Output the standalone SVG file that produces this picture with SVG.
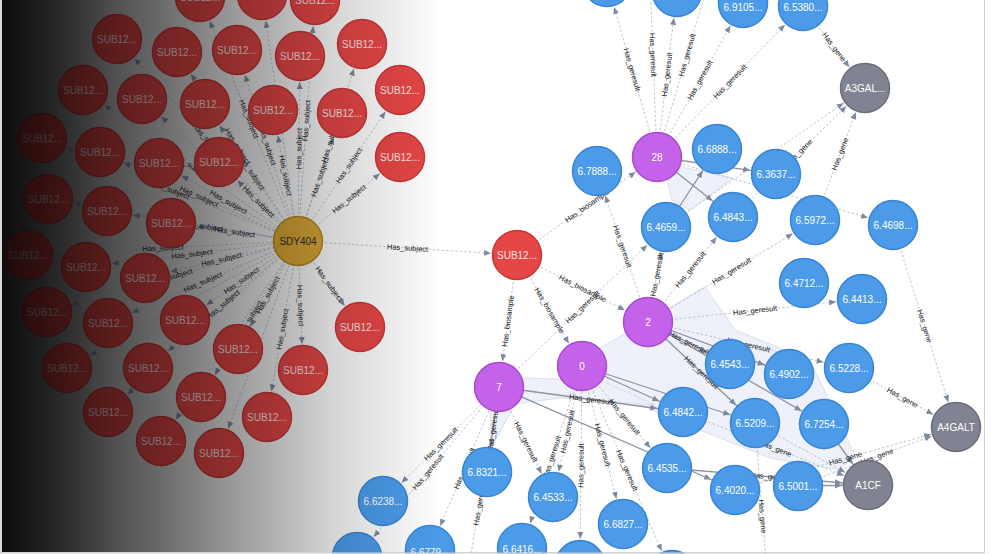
<svg xmlns="http://www.w3.org/2000/svg" xmlns:xlink="http://www.w3.org/1999/xlink" width="991" height="554" viewBox="0 0 991 554">
<style>
text{font-family:"Liberation Sans",Arial,sans-serif}
.node text{font-size:10px;text-anchor:middle}
.node circle{stroke-width:1.5}
.red circle{fill:#e54646;stroke:#c63838}
.red text{fill:#fbe4e4}
.blue circle{fill:#4b9be9;stroke:#3a84d4}
.blue text{fill:#fff}
.pur circle{fill:#c562ea;stroke:#a84ccc}
.pur text{fill:#fff}
.grey circle{fill:#818392;stroke:#6b6d7b}
.grey text{fill:#fff}
.gold circle{fill:#d8a635;stroke:#b4861c}
.gold text{fill:#2a2a2a}
.e{fill:none;stroke:#a9b5ca;stroke-width:0.8;stroke-dasharray:2.5 2}
.h{fill:none;stroke:#8b93a3;stroke-width:1.3}
.el{font-size:7.5px;fill:#1a1a1a;text-anchor:middle}
.hull{fill:#eef1f9;stroke:#c9cfdb;stroke-width:0.6}
</style>
<defs>
<linearGradient id="bgg" gradientUnits="userSpaceOnUse" x1="2" y1="0" x2="442" y2="0">
<stop offset="0" stop-color="#6c6c6c"/>
<stop offset="0.25" stop-color="#c4c4c4"/>
<stop offset="0.5" stop-color="#ececec"/>
<stop offset="0.75" stop-color="#fafafa"/>
<stop offset="1" stop-color="#ffffff"/>
</linearGradient>
<linearGradient id="ov" gradientUnits="userSpaceOnUse" x1="2" y1="0" x2="442" y2="0">
<stop offset="0" stop-color="#000" stop-opacity="0.88"/>
<stop offset="0.25" stop-color="#000" stop-opacity="0.6"/>
<stop offset="0.5" stop-color="#000" stop-opacity="0.38"/>
<stop offset="0.75" stop-color="#000" stop-opacity="0.15"/>
<stop offset="1" stop-color="#000" stop-opacity="0"/>
</linearGradient>
<marker id="ar" viewBox="0 -4 40 8" refX="33" refY="0" markerWidth="40" markerHeight="8" markerUnits="userSpaceOnUse" orient="auto-start-reverse">
<path d="M0,-3 L7,0 L0,3 Z" fill="#7d8aa0"/>
</marker>
</defs>

<g id="background">
<rect x="0" y="0" width="991" height="554" fill="#ffffff"/>
<rect x="0" y="0" width="2" height="554" fill="#d8d8d8"/>
<rect x="2" y="0" width="983" height="552" fill="url(#bgg)"/>
<path d="M984.5,0 V552.5 H2" fill="none" stroke="#d0d0d0" stroke-width="1"/>
</g>

<g id="hulls">
<polygon class="hull" points="663,163 733,178 690,210 672,200"/>
<polygon class="hull" points="600,348 705,287 735,330 810,360 855,455 840,470 770,458 700,430 640,405 610,392"/>
<polygon class="hull" points="522,378 600,380 655,405 560,398 515,404"/>
<polygon class="hull" points="490,410 512,410 492,446"/>
</g>

<g id="connectors">
<path id="s1" class="e" d="M200,-3 L298,241" marker-start="url(#ar)"/>
<path id="s2" class="e" d="M262,-5 L298,241" marker-start="url(#ar)"/>
<path id="s3" class="e" d="M298,241 L315,0" marker-end="url(#ar)"/>
<path id="s4" class="e" d="M117,39 L298,241" marker-start="url(#ar)"/>
<path id="s5" class="e" d="M177,52 L298,241" marker-start="url(#ar)"/>
<path id="s6" class="e" d="M237,50 L298,241" marker-start="url(#ar)"/>
<path id="s7" class="e" d="M298,241 L300,56" marker-end="url(#ar)"/>
<path id="s8" class="e" d="M298,241 L362,44" marker-end="url(#ar)"/>
<path id="s9" class="e" d="M298,241 L400,90" marker-end="url(#ar)"/>
<path id="s10" class="e" d="M298,241 L400,157" marker-end="url(#ar)"/>
<path id="s11" class="e" d="M298,241 L342,113" marker-end="url(#ar)"/>
<path id="s12" class="e" d="M273,110 L298,241" marker-start="url(#ar)"/>
<path id="s13" class="e" d="M205,104 L298,241" marker-start="url(#ar)"/>
<path id="s14" class="e" d="M142,99 L298,241" marker-start="url(#ar)"/>
<path id="s15" class="e" d="M83,90 L298,241" marker-start="url(#ar)"/>
<path id="s16" class="e" d="M42,138 L298,241" marker-start="url(#ar)"/>
<path id="s17" class="e" d="M100,152 L298,241" marker-start="url(#ar)"/>
<path id="s18" class="e" d="M159,163 L298,241" marker-start="url(#ar)"/>
<path id="s19" class="e" d="M219,162 L298,241" marker-start="url(#ar)"/>
<path id="s20" class="e" d="M48,199 L298,241" marker-start="url(#ar)"/>
<path id="s21" class="e" d="M107,211 L298,241" marker-start="url(#ar)"/>
<path id="s22" class="e" d="M171,223 L298,241" marker-start="url(#ar)"/>
<path id="s23" class="e" d="M28,255 L298,241" marker-start="url(#ar)"/>
<path id="s24" class="e" d="M86,267 L298,241" marker-start="url(#ar)"/>
<path id="s25" class="e" d="M145,278 L298,241" marker-start="url(#ar)"/>
<path id="s26" class="e" d="M47,312 L298,241" marker-start="url(#ar)"/>
<path id="s27" class="e" d="M108,323 L298,241" marker-start="url(#ar)"/>
<path id="s28" class="e" d="M185,320 L298,241" marker-start="url(#ar)"/>
<path id="s29" class="e" d="M67,368 L298,241" marker-start="url(#ar)"/>
<path id="s30" class="e" d="M148,368 L298,241" marker-start="url(#ar)"/>
<path id="s31" class="e" d="M238,349 L298,241" marker-start="url(#ar)"/>
<path id="s32" class="e" d="M298,241 L303,370" marker-end="url(#ar)"/>
<path id="s33" class="e" d="M108,412 L298,241" marker-start="url(#ar)"/>
<path id="s34" class="e" d="M201,397 L298,241" marker-start="url(#ar)"/>
<path id="s35" class="e" d="M267,417 L298,241" marker-start="url(#ar)"/>
<path id="s36" class="e" d="M161,441 L298,241" marker-start="url(#ar)"/>
<path id="s37" class="e" d="M219,453 L298,241" marker-start="url(#ar)"/>
<path id="s38" class="e" d="M298,241 L360,327" marker-end="url(#ar)"/>

<path id="r1" class="e" d="M298,241 L517,255" marker-end="url(#ar)"/>
<path id="r2" class="e" d="M517,255 L657,157" marker-end="url(#ar)"/>
<path id="r3" class="e" d="M517,255 L648,322" marker-end="url(#ar)"/>
<path id="r4" class="e" d="M517,255 L582,366" marker-end="url(#ar)"/>
<path id="r5" class="e" d="M499,387 L517,255" marker-start="url(#ar)"/>
<path id="r6" class="e" d="M607,-18 L657,157" marker-start="url(#ar)"/>
<path id="r7" class="e" d="M649,-47 L657,157" marker-start="url(#ar)"/>
<path id="r8" class="e" d="M657,157 L677,-8" marker-end="url(#ar)"/>
<path id="r9" class="e" d="M657,157 L717,-47" marker-end="url(#ar)"/>
<path id="r10" class="e" d="M657,157 L743,3" marker-end="url(#ar)"/>
<path id="r11" class="e" d="M657,157 L803,6" marker-end="url(#ar)"/>
<path id="r12" class="e" d="M657,157 L893,225" marker-end="url(#ar)"/>
<path id="r13" class="h" d="M657,157 L776,174" marker-end="url(#ar)"/>
<path id="r14" class="h" d="M657,157 L733,217" marker-end="url(#ar)"/>
<path id="r15" class="h" d="M666,227 L717,149" marker-end="url(#ar)"/>
<path id="r16" class="e" d="M597,171 L648,322" marker-start="url(#ar)"/>
<path id="r17" class="e" d="M648,322 L666,227" marker-end="url(#ar)"/>
<path id="r18" class="e" d="M648,322 L733,217" marker-end="url(#ar)"/>
<path id="r19" class="e" d="M648,322 L815,220" marker-end="url(#ar)"/>
<path id="r20" class="e" d="M648,322 L862,299" marker-end="url(#ar)"/>
<path id="r21" class="h" d="M648,322 L730,364" marker-end="url(#ar)"/>
<path id="r22" class="h" d="M648,322 L789,374" marker-end="url(#ar)"/>
<path id="r23" class="h" d="M648,322 L755,423" marker-end="url(#ar)"/>
<path id="r24" class="h" d="M648,322 L824,424" marker-end="url(#ar)"/>
<path id="r25" class="e" d="M648,322 L849,368" marker-end="url(#ar)"/>
<path id="r26" class="h" d="M582,366 L683,412" marker-end="url(#ar)"/>
<path id="r27" class="e" d="M582,366 L667,468" marker-end="url(#ar)"/>
<path id="r28" class="e" d="M582,366 L623,524" marker-end="url(#ar)"/>
<path id="r29" class="e" d="M553,497 L582,366" marker-start="url(#ar)"/>
<path id="r30" class="e" d="M522,548 L582,366" marker-start="url(#ar)"/>
<path id="r31" class="e" d="M580,565 L582,366" marker-start="url(#ar)"/>
<path id="r32" class="e" d="M582,366 L672,575" marker-end="url(#ar)"/>
<path id="r33" class="h" d="M582,366 L755,423" marker-end="url(#ar)"/>
<path id="r34" class="e" d="M383,501 L499,387" marker-start="url(#ar)"/>
<path id="r35" class="e" d="M357,557 L499,387" marker-start="url(#ar)"/>
<path id="r36" class="e" d="M430,550 L499,387" marker-start="url(#ar)"/>
<path id="r37" class="h" d="M487,472 L499,387" marker-start="url(#ar)"/>
<path id="r38" class="e" d="M460,620 L499,387" marker-start="url(#ar)"/>
<path id="r39" class="e" d="M499,387 L553,497" marker-end="url(#ar)"/>
<path id="r40" class="e" d="M499,387 L666,227" marker-end="url(#ar)"/>
<path id="r41" class="h" d="M499,387 L683,412" marker-end="url(#ar)"/>
<path id="r42" class="h" d="M499,387 L735,490" marker-end="url(#ar)"/>
<path id="r43" class="e" d="M803,6 L865,88" marker-end="url(#ar)"/>
<path id="r44" class="e" d="M733,217 L865,88" marker-end="url(#ar)"/>
<path id="r45" class="e" d="M666,227 L865,88" marker-end="url(#ar)"/>
<path id="r46" class="e" d="M815,220 L865,88" marker-end="url(#ar)"/>
<path id="r47" class="e" d="M893,225 L956,427" marker-end="url(#ar)"/>
<path id="r48" class="e" d="M849,368 L956,427" marker-end="url(#ar)"/>
<path id="r49" class="e" d="M798,486 L956,427" marker-end="url(#ar)"/>
<path id="r50" class="e" d="M735,490 L956,427" marker-end="url(#ar)"/>
<path id="r51" class="e" d="M683,412 L868,485" marker-end="url(#ar)"/>
<path id="r52" class="h" d="M667,468 L868,485" marker-end="url(#ar)"/>
<path id="r53" class="h" d="M824,424 L868,485" marker-end="url(#ar)"/>
<path id="r54" class="e" d="M755,423 L868,485" marker-end="url(#ar)"/>
<path id="r55" class="h" d="M798,486 L868,485" marker-end="url(#ar)"/>
<path id="r56" class="e" d="M755,423 L770,610" marker-end="url(#ar)"/>

<g id="edge-labels">
<text class="el" dy="2.5"><textPath href="#s1" startOffset="50%">Has_subject</textPath></text>
<text class="el" dy="2.5"><textPath href="#s3" startOffset="50%">Has_subject</textPath></text>
<text class="el" dy="2.5"><textPath href="#s4" startOffset="50%">Has_subject</textPath></text>
<text class="el" dy="2.5"><textPath href="#s5" startOffset="50%">Has_subject</textPath></text>
<text class="el" dy="2.5"><textPath href="#s6" startOffset="50%">Has_subject</textPath></text>
<text class="el" dy="2.5"><textPath href="#s7" startOffset="50%">Has_subject</textPath></text>
<text class="el" dy="2.5"><textPath href="#s8" startOffset="50%">Has_subject</textPath></text>
<text class="el" dy="2.5"><textPath href="#s9" startOffset="50%">Has_subject</textPath></text>
<text class="el" dy="2.5"><textPath href="#s10" startOffset="50%">Has_subject</textPath></text>
<text class="el" dy="2.5"><textPath href="#s11" startOffset="50%">Has_subject</textPath></text>
<text class="el" dy="2.5"><textPath href="#s12" startOffset="50%">Has_subject</textPath></text>
<text class="el" dy="2.5"><textPath href="#s13" startOffset="50%">Has_subject</textPath></text>
<text class="el" dy="2.5"><textPath href="#s15" startOffset="50%">Has_subject</textPath></text>
<text class="el" dy="2.5"><textPath href="#s16" startOffset="50%">Has_subject</textPath></text>
<text class="el" dy="2.5"><textPath href="#s17" startOffset="50%">Has_subject</textPath></text>
<text class="el" dy="2.5"><textPath href="#s18" startOffset="50%">Has_subject</textPath></text>
<text class="el" dy="2.5"><textPath href="#s19" startOffset="50%">Has_subject</textPath></text>
<text class="el" dy="2.5"><textPath href="#s21" startOffset="50%">Has_subject</textPath></text>
<text class="el" dy="2.5"><textPath href="#s22" startOffset="50%">Has_subject</textPath></text>
<text class="el" dy="2.5"><textPath href="#s23" startOffset="50%">Has_subject</textPath></text>
<text class="el" dy="2.5"><textPath href="#s24" startOffset="50%">Has_subject</textPath></text>
<text class="el" dy="2.5"><textPath href="#s25" startOffset="50%">Has_subject</textPath></text>
<text class="el" dy="2.5"><textPath href="#s26" startOffset="50%">Has_subject</textPath></text>
<text class="el" dy="2.5"><textPath href="#s27" startOffset="50%">Has_subject</textPath></text>
<text class="el" dy="2.5"><textPath href="#s28" startOffset="50%">Has_subject</textPath></text>
<text class="el" dy="2.5"><textPath href="#s30" startOffset="50%">Has_subject</textPath></text>
<text class="el" dy="2.5"><textPath href="#s31" startOffset="50%">Has_subject</textPath></text>
<text class="el" dy="2.5"><textPath href="#s32" startOffset="50%">Has_subject</textPath></text>
<text class="el" dy="2.5"><textPath href="#s34" startOffset="50%">Has_subject</textPath></text>
<text class="el" dy="2.5"><textPath href="#s35" startOffset="50%">Has_subject</textPath></text>
<text class="el" dy="2.5"><textPath href="#s38" startOffset="50%">Has_subject</textPath></text>

<text class="el" dy="2.5"><textPath href="#r1" startOffset="50%">Has_subject</textPath></text>
<text class="el" dy="2.5"><textPath href="#r2" startOffset="50%">Has_biosample</textPath></text>
<text class="el" dy="2.5"><textPath href="#r3" startOffset="50%">Has_biosample</textPath></text>
<text class="el" dy="2.5"><textPath href="#r4" startOffset="50%">Has_biosample</textPath></text>
<text class="el" dy="2.5"><textPath href="#r5" startOffset="50%">Has_biosample</textPath></text>
<text class="el" dy="2.5"><textPath href="#r6" startOffset="50%">Has_geresult</textPath></text>
<text class="el" dy="2.5"><textPath href="#r7" startOffset="50%">Has_geresult</textPath></text>
<text class="el" dy="2.5"><textPath href="#r8" startOffset="50%">Has_geresult</textPath></text>
<text class="el" dy="2.5"><textPath href="#r9" startOffset="50%">Has_geresult</textPath></text>
<text class="el" dy="2.5"><textPath href="#r10" startOffset="50%">Has_geresult</textPath></text>
<text class="el" dy="2.5"><textPath href="#r11" startOffset="50%">Has_geresult</textPath></text>
<text class="el" dy="2.5"><textPath href="#r16" startOffset="50%">Has_geresult</textPath></text>
<text class="el" dy="2.5"><textPath href="#r17" startOffset="50%">Has_geresult</textPath></text>
<text class="el" dy="2.5"><textPath href="#r18" startOffset="50%">Has_geresult</textPath></text>
<text class="el" dy="2.5"><textPath href="#r19" startOffset="50%">Has_geresult</textPath></text>
<text class="el" dy="2.5"><textPath href="#r20" startOffset="50%">Has_geresult</textPath></text>
<text class="el" dy="2.5"><textPath href="#r21" startOffset="50%">Has_geresult</textPath></text>
<text class="el" dy="2.5"><textPath href="#r23" startOffset="50%">Has_geresult</textPath></text>
<text class="el" dy="2.5"><textPath href="#r25" startOffset="50%">Has_geresult</textPath></text>
<text class="el" dy="2.5"><textPath href="#r27" startOffset="50%">Has_geresult</textPath></text>
<text class="el" dy="2.5"><textPath href="#r28" startOffset="50%">Has_geresult</textPath></text>
<text class="el" dy="2.5"><textPath href="#r29" startOffset="50%">Has_geresult</textPath></text>
<text class="el" dy="2.5"><textPath href="#r30" startOffset="50%">Has_geresult</textPath></text>
<text class="el" dy="2.5"><textPath href="#r31" startOffset="50%">Has_geresult</textPath></text>
<text class="el" dy="2.5"><textPath href="#r32" startOffset="50%">Has_geresult</textPath></text>
<text class="el" dy="2.5"><textPath href="#r34" startOffset="50%">Has_geresult</textPath></text>
<text class="el" dy="2.5"><textPath href="#r35" startOffset="50%">Has_geresult</textPath></text>
<text class="el" dy="2.5"><textPath href="#r36" startOffset="50%">Has_geresult</textPath></text>
<text class="el" dy="2.5"><textPath href="#r37" startOffset="50%">Has_geresult</textPath></text>
<text class="el" dy="2.5"><textPath href="#r38" startOffset="50%">Has_geresult</textPath></text>
<text class="el" dy="2.5"><textPath href="#r39" startOffset="50%">Has_geresult</textPath></text>
<text class="el" dy="2.5"><textPath href="#r40" startOffset="50%">Has_geresult</textPath></text>
<text class="el" dy="2.5"><textPath href="#r41" startOffset="50%">Has_geresult</textPath></text>
<text class="el" dy="2.5"><textPath href="#r43" startOffset="50%">Has_gene</textPath></text>
<text class="el" dy="2.5"><textPath href="#r44" startOffset="50%">Has_gene</textPath></text>
<text class="el" dy="2.5"><textPath href="#r46" startOffset="50%">Has_gene</textPath></text>
<text class="el" dy="2.5"><textPath href="#r47" startOffset="50%">Has_gene</textPath></text>
<text class="el" dy="2.5"><textPath href="#r48" startOffset="50%">Has_gene</textPath></text>
<text class="el" dy="2.5"><textPath href="#r49" startOffset="50%">Has_gene</textPath></text>
<text class="el" dy="2.5"><textPath href="#r50" startOffset="50%">Has_gene</textPath></text>
<text class="el" dy="2.5"><textPath href="#r51" startOffset="50%">Has_gene</textPath></text>
<text class="el" dy="2.5"><textPath href="#r52" startOffset="50%">Has_gene</textPath></text>
<text class="el" dy="2.5"><textPath href="#r56" startOffset="50%">Has_gene</textPath></text>
</g>
</g>

<g id="nodes">
<g id="sub-1" class="node red" transform="translate(200,-3)"><circle r="24.5"/><text y="3.5">SUB12...</text></g>
<g id="sub-2" class="node red" transform="translate(262,-5)"><circle r="24.5"/><text y="3.5">SUB12...</text></g>
<g id="sub-3" class="node red" transform="translate(315,0)"><circle r="24.5"/><text y="3.5">SUB12...</text></g>
<g id="sub-4" class="node red" transform="translate(117,39)"><circle r="24.5"/><text y="3.5">SUB12...</text></g>
<g id="sub-5" class="node red" transform="translate(177,52)"><circle r="24.5"/><text y="3.5">SUB12...</text></g>
<g id="sub-6" class="node red" transform="translate(237,50)"><circle r="24.5"/><text y="3.5">SUB12...</text></g>
<g id="sub-7" class="node red" transform="translate(300,56)"><circle r="24.5"/><text y="3.5">SUB12...</text></g>
<g id="sub-8" class="node red" transform="translate(362,44)"><circle r="24.5"/><text y="3.5">SUB12...</text></g>
<g id="sub-9" class="node red" transform="translate(400,90)"><circle r="24.5"/><text y="3.5">SUB12...</text></g>
<g id="sub-10" class="node red" transform="translate(400,157)"><circle r="24.5"/><text y="3.5">SUB12...</text></g>
<g id="sub-11" class="node red" transform="translate(342,113)"><circle r="24.5"/><text y="3.5">SUB12...</text></g>
<g id="sub-12" class="node red" transform="translate(273,110)"><circle r="24.5"/><text y="3.5">SUB12...</text></g>
<g id="sub-13" class="node red" transform="translate(205,104)"><circle r="24.5"/><text y="3.5">SUB12...</text></g>
<g id="sub-14" class="node red" transform="translate(142,99)"><circle r="24.5"/><text y="3.5">SUB12...</text></g>
<g id="sub-15" class="node red" transform="translate(83,90)"><circle r="24.5"/><text y="3.5">SUB12...</text></g>
<g id="sub-16" class="node red" transform="translate(42,138)"><circle r="24.5"/><text y="3.5">SUB12...</text></g>
<g id="sub-17" class="node red" transform="translate(100,152)"><circle r="24.5"/><text y="3.5">SUB12...</text></g>
<g id="sub-18" class="node red" transform="translate(159,163)"><circle r="24.5"/><text y="3.5">SUB12...</text></g>
<g id="sub-19" class="node red" transform="translate(219,162)"><circle r="24.5"/><text y="3.5">SUB12...</text></g>
<g id="sub-20" class="node red" transform="translate(48,199)"><circle r="24.5"/><text y="3.5">SUB12...</text></g>
<g id="sub-21" class="node red" transform="translate(107,211)"><circle r="24.5"/><text y="3.5">SUB12...</text></g>
<g id="sub-22" class="node red" transform="translate(171,223)"><circle r="24.5"/><text y="3.5">SUB12...</text></g>
<g id="sub-23" class="node red" transform="translate(28,255)"><circle r="24.5"/><text y="3.5">SUB12...</text></g>
<g id="sub-24" class="node red" transform="translate(86,267)"><circle r="24.5"/><text y="3.5">SUB12...</text></g>
<g id="sub-25" class="node red" transform="translate(145,278)"><circle r="24.5"/><text y="3.5">SUB12...</text></g>
<g id="sub-26" class="node red" transform="translate(47,312)"><circle r="24.5"/><text y="3.5">SUB12...</text></g>
<g id="sub-27" class="node red" transform="translate(108,323)"><circle r="24.5"/><text y="3.5">SUB12...</text></g>
<g id="sub-28" class="node red" transform="translate(185,320)"><circle r="24.5"/><text y="3.5">SUB12...</text></g>
<g id="sub-29" class="node red" transform="translate(67,368)"><circle r="24.5"/><text y="3.5">SUB12...</text></g>
<g id="sub-30" class="node red" transform="translate(148,368)"><circle r="24.5"/><text y="3.5">SUB12...</text></g>
<g id="sub-31" class="node red" transform="translate(238,349)"><circle r="24.5"/><text y="3.5">SUB12...</text></g>
<g id="sub-32" class="node red" transform="translate(303,370)"><circle r="24.5"/><text y="3.5">SUB12...</text></g>
<g id="sub-33" class="node red" transform="translate(108,412)"><circle r="24.5"/><text y="3.5">SUB12...</text></g>
<g id="sub-34" class="node red" transform="translate(201,397)"><circle r="24.5"/><text y="3.5">SUB12...</text></g>
<g id="sub-35" class="node red" transform="translate(267,417)"><circle r="24.5"/><text y="3.5">SUB12...</text></g>
<g id="sub-36" class="node red" transform="translate(161,441)"><circle r="24.5"/><text y="3.5">SUB12...</text></g>
<g id="sub-37" class="node red" transform="translate(219,453)"><circle r="24.5"/><text y="3.5">SUB12...</text></g>
<g id="sub-38" class="node red" transform="translate(360,327)"><circle r="24.5"/><text y="3.5">SUB12...</text></g>

<g id="sdy404" class="node gold" transform="translate(298,241)"><circle r="24.5"/><text y="3.5">SDY404</text></g>
<g id="sub-main" class="node red" transform="translate(517,255)"><circle r="24.5"/><text y="3.5">SUB12...</text></g>

<g id="bs-28" class="node pur" transform="translate(657,157)"><circle r="24.5"/><text y="3.5">28</text></g>
<g id="bs-2" class="node pur" transform="translate(648,322)"><circle r="24.5"/><text y="3.5">2</text></g>
<g id="bs-0" class="node pur" transform="translate(582,366)"><circle r="24.5"/><text y="3.5">0</text></g>
<g id="bs-7" class="node pur" transform="translate(499,387)"><circle r="24.5"/><text y="3.5">7</text></g>

<g id="gene-a3gal" class="node grey" transform="translate(865,88)"><circle r="24.5"/><text y="3.5">A3GAL...</text></g>
<g id="gene-a4galt" class="node grey" transform="translate(956,427)"><circle r="24.5"/><text y="3.5">A4GALT</text></g>
<g id="gene-a1cf" class="node grey" transform="translate(868,485)"><circle r="24.5"/><text y="3.5">A1CF</text></g>

<g id="ge-1" class="node blue" transform="translate(607,-18)"><circle r="24.5"/></g>
<g id="ge-2" class="node blue" transform="translate(677,-8)"><circle r="24.5"/></g>
<g id="ge-3" class="node blue" transform="translate(743,3)"><circle r="24.5"/><text y="7.5">6.9105...</text></g>
<g id="ge-4" class="node blue" transform="translate(803,6)"><circle r="24.5"/><text y="5">6.5380...</text></g>
<g id="ge-5" class="node blue" transform="translate(597,171)"><circle r="24.5"/><text y="3.5">6.7888...</text></g>
<g id="ge-6" class="node blue" transform="translate(717,149)"><circle r="24.5"/><text y="3.5">6.6888...</text></g>
<g id="ge-7" class="node blue" transform="translate(776,174)"><circle r="24.5"/><text y="3.5">6.3637...</text></g>
<g id="ge-8" class="node blue" transform="translate(666,227)"><circle r="24.5"/><text y="3.5">6.4659...</text></g>
<g id="ge-9" class="node blue" transform="translate(733,217)"><circle r="24.5"/><text y="3.5">6.4843...</text></g>
<g id="ge-10" class="node blue" transform="translate(815,220)"><circle r="24.5"/><text y="3.5">6.5972...</text></g>
<g id="ge-11" class="node blue" transform="translate(893,225)"><circle r="24.5"/><text y="3.5">6.4698...</text></g>
<g id="ge-12" class="node blue" transform="translate(804,283)"><circle r="24.5"/><text y="3.5">6.4712...</text></g>
<g id="ge-13" class="node blue" transform="translate(862,299)"><circle r="24.5"/><text y="3.5">6.4413...</text></g>
<g id="ge-14" class="node blue" transform="translate(730,364)"><circle r="24.5"/><text y="3.5">6.4543...</text></g>
<g id="ge-15" class="node blue" transform="translate(789,374)"><circle r="24.5"/><text y="3.5">6.4902...</text></g>
<g id="ge-16" class="node blue" transform="translate(849,368)"><circle r="24.5"/><text y="3.5">6.5228...</text></g>
<g id="ge-17" class="node blue" transform="translate(683,412)"><circle r="24.5"/><text y="3.5">6.4842...</text></g>
<g id="ge-18" class="node blue" transform="translate(755,423)"><circle r="24.5"/><text y="3.5">6.5209...</text></g>
<g id="ge-19" class="node blue" transform="translate(824,424)"><circle r="24.5"/><text y="3.5">6.7254...</text></g>
<g id="ge-20" class="node blue" transform="translate(667,468)"><circle r="24.5"/><text y="3.5">6.4535...</text></g>
<g id="ge-21" class="node blue" transform="translate(735,490)"><circle r="24.5"/><text y="3.5">6.4020...</text></g>
<g id="ge-22" class="node blue" transform="translate(798,486)"><circle r="24.5"/><text y="3.5">6.5001...</text></g>
<g id="ge-23" class="node blue" transform="translate(487,472)"><circle r="24.5"/><text y="3.5">6.8321...</text></g>
<g id="ge-24" class="node blue" transform="translate(383,501)"><circle r="24.5"/><text y="3.5">6.6238...</text></g>
<g id="ge-25" class="node blue" transform="translate(553,497)"><circle r="24.5"/><text y="3.5">6.4533...</text></g>
<g id="ge-26" class="node blue" transform="translate(623,524)"><circle r="24.5"/><text y="3.5">6.6827...</text></g>
<g id="ge-27" class="node blue" transform="translate(430,550)"><circle r="24.5"/><text y="5.5">6.6779...</text></g>
<g id="ge-28" class="node blue" transform="translate(522,548)"><circle r="24.5"/><text y="5">6.6416...</text></g>
<g id="ge-29" class="node blue" transform="translate(357,557)"><circle r="24.5"/></g>
<g id="ge-30" class="node blue" transform="translate(580,565)"><circle r="24.5"/></g>
<g id="ge-31" class="node blue" transform="translate(672,575)"><circle r="24.5"/></g>
</g>

<g id="shade">
<rect x="2" y="0" width="440" height="552" fill="url(#ov)"/>
</g>
<path d="M0,553 H985" stroke="#d0d0d0" stroke-width="1" fill="none"/>
<rect x="0" y="553.5" width="991" height="1" fill="#f0f0f0"/>
</svg>
